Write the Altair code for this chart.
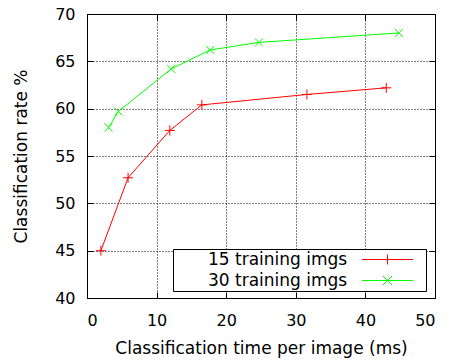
import altair as alt
import pandas as pd

series_names = ["15 training imgs", "30 training imgs"]
red_x = [2.0, 5.9, 11.9, 16.5, 31.6, 43.0]
red_y = [45.0, 52.7, 57.7, 60.4, 61.5, 62.2]
green_x = [3.1, 4.5, 12.1, 17.7, 24.7, 44.8]
green_y = [58.0, 59.7, 64.2, 66.2, 67.0, 68.0]
x_ticks = [0, 10, 20, 30, 40, 50]
y_ticks = [40, 45, 50, 55, 60, 65, 70]
colors = ["#ff0000", "#00ff00"]

df = pd.DataFrame({
    "time": red_x + green_x,
    "rate": red_y + green_y,
    "series": [series_names[0]] * len(red_x) + [series_names[1]] * len(green_x),
})

FONT = "DejaVu Sans"
xscale = alt.Scale(domain=[0, 50], nice=False)
yscale = alt.Scale(domain=[40, 70], nice=False)
cscale = alt.Scale(domain=series_names, range=colors)

plus = "M-1,0H1M0,-1V1"
cross = "M-0.9,-0.9L0.9,0.9M-0.9,0.9L0.9,-0.9"
# legend key: line sample with marker, drawn to the right of the label
leg_plus = "M47.7,0M35.7,0H45.9M40.8,-1V1"
leg_cross = "M47.7,0M35.7,0H45.9M39.9,-0.9L41.7,0.9M39.9,0.9L41.7,-0.9"

common = dict(labelFont=FONT, labelColor="black", titleFont=FONT, titleColor="black",
              titleFontWeight="normal")

main_x = alt.Axis(values=x_ticks, grid=True, gridDash=[1, 2], gridColor="black",
                  domain=False, ticks=False, tickSize=0, labelPadding=14, labelFontSize=16,
                  title="Classification time per image (ms)", titleFontSize=17,
                  titlePadding=12, **common)
main_y = alt.Axis(values=y_ticks, grid=True, gridDash=[1, 2], gridColor="black",
                  domain=False, ticks=False, tickSize=0, labelPadding=12, labelFontSize=16,
                  title="Classification rate %", titleFontSize=17, titlePadding=24,
                  **common)


def tick_axis(orient, vals):
    return alt.Axis(orient=orient, values=vals, offset=-6, tickSize=6, ticks=True,
                    tickColor="black", tickWidth=1, labels=False, domain=False,
                    grid=False, title=None)


def only(name):
    return alt.datum.series == name


base = alt.Chart(df)

red_line = base.transform_filter(only(series_names[0])).mark_line(
    strokeWidth=1, color=colors[0]
).encode(
    x=alt.X("time:Q", scale=xscale, axis=main_x),
    y=alt.Y("rate:Q", scale=yscale, axis=main_y),
)

green_line = base.transform_filter(only(series_names[1])).mark_line(
    strokeWidth=1, color=colors[1]
).encode(
    x=alt.X("time:Q", scale=xscale, axis=None),
    y=alt.Y("rate:Q", scale=yscale, axis=None),
)

red_pts = base.transform_filter(only(series_names[0])).mark_point(
    shape=plus, size=100, filled=False, strokeWidth=1, opacity=1, color=colors[0]
).encode(
    x=alt.X("time:Q", scale=xscale, axis=tick_axis("bottom", x_ticks)),
    y=alt.Y("rate:Q", scale=yscale, axis=tick_axis("left", y_ticks)),
)

green_pts = base.transform_filter(only(series_names[1])).mark_point(
    shape=cross, size=81, filled=False, strokeWidth=1, opacity=1, color=colors[1]
).encode(
    x=alt.X("time:Q", scale=xscale, axis=tick_axis("top", x_ticks)),
    y=alt.Y("rate:Q", scale=yscale, axis=tick_axis("right", y_ticks)),
)

leg = alt.Legend(title=None, orient="none", legendX=86, legendY=235,
                 labelFont=FONT, labelFontSize=17, labelColor="black",
                 symbolOffset=0, labelOffset=16, strokeColor="black", fillColor="white",
                 padding=2, rowPadding=3, symbolSize=100, symbolStrokeWidth=1,
                 labelLimit=400, cornerRadius=0)

legend_layer = base.transform_filter("false").mark_point(
    filled=False, size=100, strokeWidth=1, opacity=1
).encode(
    color=alt.Color("series:N", scale=cscale, legend=leg),
    shape=alt.Shape("series:N", scale=alt.Scale(domain=series_names,
                                                range=[leg_plus, leg_cross]), legend=leg),
)

chart = alt.layer(red_line, green_line, red_pts, green_pts, legend_layer).resolve_axis(
    x="independent", y="independent"
).properties(
    width=348, height=284,
    padding={"left": 79, "top": 6, "right": 10, "bottom": 62},
    autosize=alt.AutoSizeParams(type="none"),
).configure_view(stroke="black", strokeWidth=1)

chart.save("out.html", embed_options={"renderer": "svg", "actions": False})
